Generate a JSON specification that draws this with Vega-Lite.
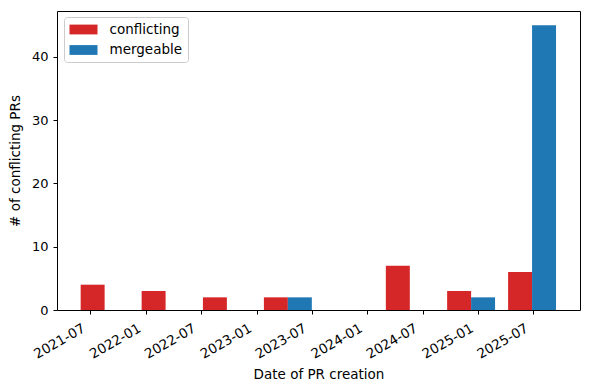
{
  "$schema": "https://vega.github.io/schema/vega-lite/v6.json",
  "width": 523,
  "height": 299,
  "autosize": {"type": "none"},
  "padding": {"left": 57, "top": 11, "right": 9, "bottom": 80},
  "background": "white",
  "config": {
    "view": {"stroke": "black", "strokeWidth": 1},
    "font": "DejaVu Sans",
    "axis": {
      "grid": false,
      "domain": false,
      "tickColor": "black",
      "tickSize": 4,
      "labelColor": "black",
      "titleColor": "black",
      "labelFont": "DejaVu Sans",
      "titleFont": "DejaVu Sans",
      "labelFontSize": 13.5,
      "titleFontSize": 13.5,
      "titleFontWeight": "normal"
    }
  },
  "data": {
    "values": [
      {"start": "2021-05-31", "end": "2021-08-18", "status": "conflicting", "count": 4},
      {"start": "2021-12-18", "end": "2022-03-07", "status": "conflicting", "count": 3},
      {"start": "2022-07-08", "end": "2022-09-25", "status": "conflicting", "count": 2},
      {"start": "2023-01-25", "end": "2023-04-14", "status": "conflicting", "count": 2},
      {"start": "2023-04-14", "end": "2023-07-02", "status": "mergeable", "count": 2},
      {"start": "2024-03-02", "end": "2024-05-20", "status": "conflicting", "count": 7},
      {"start": "2024-09-20", "end": "2024-12-08", "status": "conflicting", "count": 3},
      {"start": "2024-12-08", "end": "2025-02-25", "status": "mergeable", "count": 2},
      {"start": "2025-04-09", "end": "2025-06-27", "status": "conflicting", "count": 6},
      {"start": "2025-06-27", "end": "2025-09-14", "status": "mergeable", "count": 45}
    ]
  },
  "mark": {"type": "bar"},
  "encoding": {
    "x": {
      "field": "start",
      "type": "temporal",
      "scale": {
        "type": "utc",
        "domain": [
          {"year": 2021, "month": 3, "date": 14, "utc": true},
          {"year": 2025, "month": 12, "date": 2, "utc": true}
        ]
      },
      "axis": {
        "title": "Date of PR creation",
        "format": "%Y-%m",
        "values": [
          {"year": 2021, "month": 7, "date": 1, "utc": true},
          {"year": 2022, "month": 1, "date": 1, "utc": true},
          {"year": 2022, "month": 7, "date": 1, "utc": true},
          {"year": 2023, "month": 1, "date": 1, "utc": true},
          {"year": 2023, "month": 7, "date": 1, "utc": true},
          {"year": 2024, "month": 1, "date": 1, "utc": true},
          {"year": 2024, "month": 7, "date": 1, "utc": true},
          {"year": 2025, "month": 1, "date": 1, "utc": true},
          {"year": 2025, "month": 7, "date": 1, "utc": true}
        ],
        "labelAngle": -30,
        "labelAlign": "right",
        "labelBaseline": "bottom",
        "labelPadding": 19,
        "labelOffset": -3,
        "labelFlush": false,
        "labelOverlap": false,
        "titleY": 68,
        "titleBaseline": "alphabetic"
      }
    },
    "x2": {"field": "end"},
    "y": {
      "field": "count",
      "type": "quantitative",
      "scale": {"domain": [0, 47.25], "nice": false},
      "axis": {
        "title": "# of conflicting PRs",
        "values": [0, 10, 20, 30, 40],
        "labelFontSize": 13,
        "labelPadding": 5,
        "titleAngle": -90,
        "titleX": -38,
        "titleBaseline": "alphabetic"
      }
    },
    "y2": {"datum": 0},
    "color": {
      "field": "status",
      "type": "nominal",
      "scale": {"domain": ["conflicting", "mergeable"], "range": ["#d62728", "#1f77b4"]},
      "legend": {
        "title": null,
        "orient": "none",
        "legendX": 7,
        "legendY": 6,
        "fillColor": "white",
        "strokeColor": "#cccccc",
        "cornerRadius": 3,
        "padding": 5.5,
        "symbolType": "M-1,-0.7L3,-0.7L3,0.7L-1,0.7Z",
        "symbolSize": 196,
        "symbolStrokeWidth": 0,
        "labelFontSize": 13.5,
        "labelFont": "DejaVu Sans",
        "labelColor": "black",
        "labelOffset": 26,
        "rowPadding": 6.5
      }
    }
  }
}
